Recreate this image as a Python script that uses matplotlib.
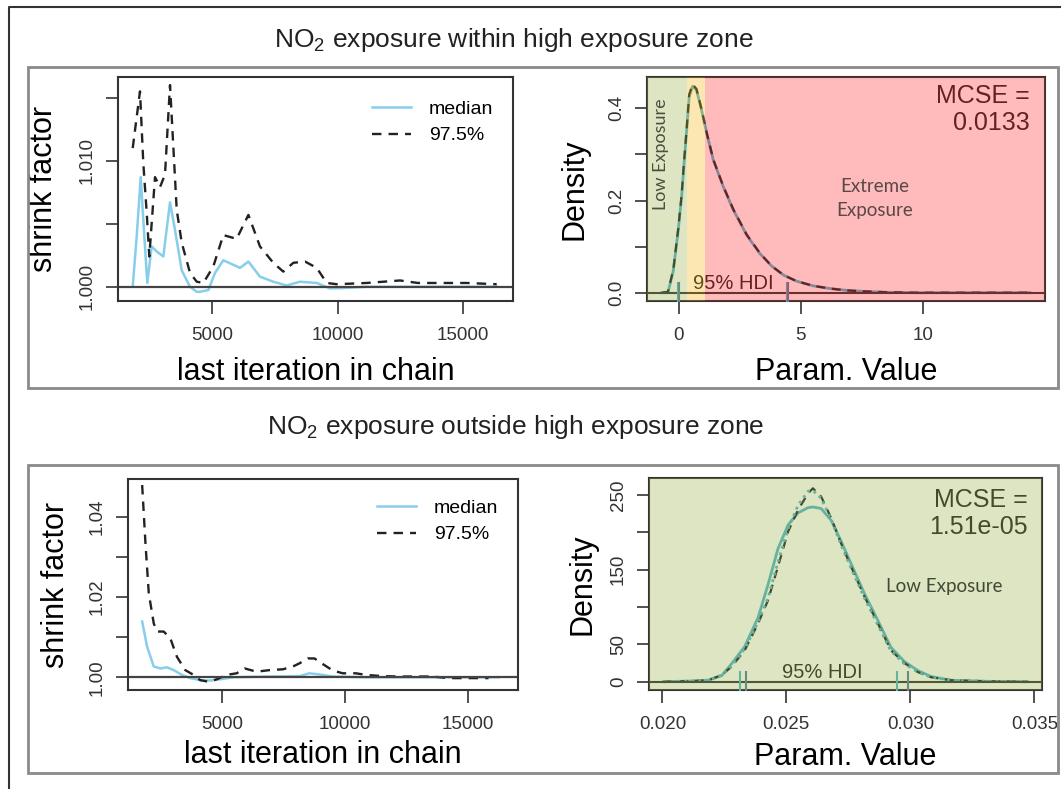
import numpy as np
from matplotlib import pyplot as plt
import matplotlib.patches as patches
from matplotlib.lines import Line2D

plt.rcParams["font.family"] = ["Liberation Sans", "DejaVu Sans"]

#############################################
######## Data ###############################
#############################################

# Gelman shrink factor, within high exposure zone
top_med_iter = [1841, 2000, 2159, 2263, 2422, 2597, 2797, 3060, 3327, 3526, 3793, 4124, 4391,
                4520, 4855, 5120, 5450, 6115, 6450, 6910, 7440, 7975, 8505, 9170, 9700,
                10230, 11160, 12500, 14000, 15500, 16340]
top_med = [1.0, 1.0040, 1.0087, 1.0053, 1.0003, 1.0032, 1.0028, 1.0024, 1.0067, 1.0045, 1.0013,
           1.0, 0.9996, 0.9996, 0.99974, 1.0011, 1.0021, 1.0015, 1.0020, 1.0008, 1.0004, 1.0001,
           1.0004, 1.0003, 0.99987, 0.9999, 1.0, 1.0, 1.0, 1.0, 1.0]
top_q97_iter = [1841, 2131, 2263, 2398, 2502, 2729, 2928, 3127, 3327, 3594, 3793, 4124, 4391,
                4655, 5050, 5450, 5980, 6450, 6910, 7440, 7840, 8240, 8705, 9170, 9570, 9970,
                11160, 12490, 13200, 14000, 15150, 16340]
top_q97 = [1.0110, 1.0155, 1.0098, 1.0059, 1.0024, 1.0087, 1.0079, 1.0089, 1.0160, 1.0061,
           1.0035, 1.0011, 1.0004, 1.0003, 1.0016, 1.0041, 1.0038, 1.0057, 1.0032, 1.0019,
           1.0012, 1.0019, 1.0020, 1.0015, 1.0003, 1.0002, 1.0003, 1.0005, 1.0003, 1.0003,
           1.0003, 1.0002]

# Gelman shrink factor, outside high exposure zone
bot_med_iter = [1774, 1976, 2245, 2514, 2782, 3051, 3387, 3723, 4126, 4530, 4933, 5470, 6815,
                8158, 8562, 8965, 9503, 10847, 13000, 16223]
bot_med = [1.0139, 1.0076, 1.0027, 1.0022, 1.0025, 1.0018, 1.0006, 0.9998, 0.9993, 0.9992,
           0.9995, 1.0, 1.0002, 1.0003, 1.0010, 1.0007, 1.0002, 1.0, 1.0, 1.0]
bot_q97_iter = [1774, 1908, 2043, 2245, 2379, 2648, 2917, 3185, 3521, 3858, 4126, 4462, 4798,
                5200, 5605, 5941, 6411, 6949, 7486, 7890, 8158, 8495, 8763, 9099, 9503, 9906,
                10444, 10847, 11519, 12190, 13535, 14200, 15820]
bot_q97 = [1.0479, 1.0334, 1.0209, 1.0134, 1.0114, 1.0114, 1.0097, 1.0051, 1.0018, 1.0006,
           0.9993, 0.9989, 0.9995, 1.0006, 1.0010, 1.0022, 1.0014, 1.0018, 1.0020, 1.0027,
           1.0035, 1.0047, 1.0047, 1.0033, 1.0017, 1.0010, 1.0010, 1.0006, 1.0003, 1.0002,
           1.0002, 0.9998, 0.9998]

# Posterior density per chain, within high exposure zone
top_dens_x = [-0.71, -0.45, -0.23, -0.03, 0.11, 0.21, 0.32, 0.42, 0.56, 0.72, 0.93, 1.14, 1.41,
              1.82, 2.23, 2.78, 3.32, 3.8, 4.3, 4.83, 5.5, 6.2, 6.9, 7.56, 8.5, 9.75, 12.0, 14.4]
top_dens_a = [0.0, 0.0, 0.048, 0.135, 0.208, 0.28, 0.353, 0.425, 0.448, 0.44, 0.396, 0.346,
              0.288, 0.23, 0.18, 0.125, 0.085, 0.058, 0.038, 0.025, 0.015, 0.009, 0.005,
              0.003, 0.001, 0.0, 0.0, 0.0]
top_dens_b = [0.0, 0.002, 0.05, 0.138, 0.212, 0.284, 0.357, 0.43, 0.452, 0.442, 0.398, 0.347,
              0.289, 0.231, 0.181, 0.126, 0.086, 0.058, 0.038, 0.025, 0.015, 0.009, 0.005,
              0.003, 0.001, 0.0, 0.0, 0.0]
top_hdi_lo = [-0.02, 0.0]
top_hdi_hi = [4.45, 4.47]
top_mcse = "MCSE =\n0.0133"

# Posterior density per chain, outside high exposure zone
bot_dens_x = [0.02005, 0.02125, 0.02185, 0.02239, 0.02279, 0.02332, 0.02386, 0.02426, 0.02466,
              0.02507, 0.02547, 0.02587, 0.02607, 0.0264, 0.02681, 0.02721, 0.02761, 0.02815,
              0.02869, 0.02922, 0.02976, 0.0303, 0.03083, 0.03164, 0.0331, 0.03472]
bot_dens_a = [0, 1, 2, 9, 20, 42, 78, 109, 154, 201, 230, 252, 259, 248, 219, 185, 154, 114,
              78, 42, 25, 13, 6, 2, 0.5, 0]
bot_dens_b = [0, 1, 2, 8, 24, 47, 86, 130, 178, 210, 226, 233, 234, 232, 216, 188, 158, 118,
              82, 46, 27, 15, 7, 2, 0.5, 0]
bot_dens_c = [0, 1, 2, 9, 21, 44, 80, 112, 160, 205, 236, 255, 256, 246, 217, 183, 152, 112,
              76, 41, 24, 13, 6, 2, 0.5, 0]
bot_hdi_lo = [0.02312, 0.02339]
bot_hdi_hi = [0.02946, 0.02989]
bot_mcse = "MCSE =\n1.51e-05"

titles = [r"NO$_\mathregular{2}$ exposure within high exposure zone",
          r"NO$_\mathregular{2}$ exposure outside high exposure zone"]

#############################################
######## Plotting routines ##################
#############################################

W, H = 1061, 789
SKY = "#87ceeb"
TEAL = "#56b6cc"
INK = "#222222"


def px_axes(fig, x0, y0, x1, y1):
    # pixel box (top-left origin) to figure axes
    return fig.add_axes([x0 / W, 1 - y1 / H, (x1 - x0) / W, (y1 - y0) / H])


def r_style(ax):
    for sp in ax.spines.values():
        sp.set_linewidth(1.5)
        sp.set_color("#333333")
    ax.tick_params(length=9, width=1.2, pad=7, labelsize=13.5, colors="#333333",
                   labelcolor="#333333")
    ax.tick_params(axis="x", pad=10)
    ax.tick_params(axis="y", labelrotation=90)
    for lab in ax.get_yticklabels():
        lab.set_verticalalignment("center")


def gelman_panel(ax, med_x, med_y, q_x, q_y, yticks, ylabels, ylim, xlim, xpad, ypad, leg_y):
    ax.plot(med_x, med_y, color=SKY, lw=1.8, label="median")
    ax.plot(q_x, q_y, color=INK, lw=1.7, ls=(0, (4, 3)), label="97.5%")
    ax.axhline(1.0, color="#444444", lw=1.6)
    ax.set_xlim(*xlim)
    ax.set_ylim(*ylim)
    ax.set_xticks([5000, 10000, 15000])
    ax.set_yticks(yticks)
    ax.set_yticklabels(ylabels)
    ax.set_xlabel("last iteration in chain", fontsize=22, labelpad=xpad)
    ax.set_ylabel("shrink factor", fontsize=22, labelpad=ypad)
    ax.legend(loc="upper right", bbox_to_anchor=(0.97, leg_y), frameon=False, fontsize=14,
              handlelength=2.0, handletextpad=0.95, labelspacing=0.45, borderaxespad=0.0)
    r_style(ax)


def density_panel(ax, xs, curves, hdi_lo, hdi_hi, mcse, xlim, ylim, xticks, yticks, ylabels,
                  xpad, ypad):
    styles = [dict(color=TEAL, lw=2.0, ls="-"),
              dict(color=INK, lw=1.6, ls=(0, (4, 3))),
              dict(color=TEAL, lw=2.0, ls=(0, (1, 1.5)))]
    for ys, st in zip(curves, styles):
        ax.plot(xs, ys, zorder=2, **st)
    ax.axhline(0, color="#333333", lw=1.5, zorder=2)
    hdi_cols = [TEAL, "#5a7f9a"]
    for lo, hi, c in zip(hdi_lo, hdi_hi, hdi_cols):
        ax.plot([lo, hi], [0, 0], ls="none", marker="|", ms=16, mew=1.5, color=c, zorder=3)
    ax.text(np.mean(hdi_lo + hdi_hi), 0, "95% HDI", ha="center", va="bottom",
            fontsize=14.5, color=INK, zorder=3)
    ax.text(max(xs), max(max(c) for c in curves), mcse, ha="right", va="top",
            fontsize=18, color=INK, linespacing=1.15, zorder=3)
    ax.set_xlim(*xlim)
    ax.set_ylim(*ylim)
    ax.set_xticks(xticks)
    ax.set_yticks(yticks)
    ax.set_yticklabels(ylabels)
    ax.set_xlabel("Param. Value", fontsize=22, labelpad=xpad)
    ax.set_ylabel("Density", fontsize=22, labelpad=ypad)
    r_style(ax)


def zone(ax, x0, x1, color, alpha=0.3):
    ax.axvspan(x0, x1, color=color, alpha=alpha, lw=0, zorder=4)


fig = plt.figure(figsize=(W / 100, H / 100), dpi=100, facecolor="white")

# outer frame and panel boxes
fig.add_artist(Line2D([9 / W, 9 / W, 1.0], [0.0, 1 - 7 / H, 1 - 7 / H],
                      transform=fig.transFigure, color="#333333", lw=1.5))
for y0, y1 in [(67, 388), (465, 773)]:
    fig.add_artist(patches.Rectangle((28 / W, 1 - y1 / H), (1058 - 28) / W, (y1 - y0) / H,
                                     transform=fig.transFigure, fill=False,
                                     ec="#8a8a8a", lw=2))
fig.text(514 / W, 1 - 40 / H, titles[0], ha="center", va="center", fontsize=19, color=INK)
fig.text(516 / W, 1 - 427 / H, titles[1], ha="center", va="center", fontsize=19, color=INK)

# top row
ax1 = px_axes(fig, 118, 77, 513, 301)
gelman_panel(ax1, top_med_iter, top_med, top_q97_iter, top_q97,
             [1.000, 1.005, 1.010, 1.015], ["1.000", "", "1.010", ""],
             (0.99887, 1.01664), (1255, 16990), xpad=9, ypad=14, leg_y=0.93)

ax2 = px_axes(fig, 647, 77, 1045, 301)
density_panel(ax2, top_dens_x, [top_dens_a, top_dens_b], top_hdi_lo, top_hdi_hi, top_mcse,
              (-1.31, 15.02), (-0.018, 0.468), [0, 5, 10],
              [0.0, 0.1, 0.2, 0.3, 0.4], ["0.0", "", "0.2", "", "0.4"], xpad=9, ypad=13)
zone(ax2, -1.31, 0.34, "#91ac3a")
zone(ax2, 0.34, 1.09, "#f8b205")
zone(ax2, 1.09, 15.02, "#ff2020")
ax2.text(-0.72, 0.30, "Low Exposure", rotation=90, ha="center", va="center",
         fontsize=13, family="Lato", color="#4a5040", zorder=5)
ax2.text(8.05, 0.205, "Extreme\nExposure", ha="center", va="center", fontsize=13.5,
         family="Lato", color="#5a4848", linespacing=1.5, zorder=5)

# bottom row
ax3 = px_axes(fig, 128, 479, 518, 690)
gelman_panel(ax3, bot_med_iter, bot_med, bot_q97_iter, bot_q97,
             [1.00, 1.01, 1.02, 1.03, 1.04], ["1.00", "", "1.02", "", "1.04"],
             (0.99684, 1.0494), (1200, 17015), xpad=5, ypad=13, leg_y=0.94)

ax4 = px_axes(fig, 649, 478, 1042, 690)
density_panel(ax4, bot_dens_x, [bot_dens_b, bot_dens_a, bot_dens_c], bot_hdi_lo, bot_hdi_hi,
              bot_mcse, (0.01946, 0.03531), (-11.1, 272.8), [0.020, 0.025, 0.030, 0.035],
              [0, 50, 100, 150, 200, 250], ["0", "50", "", "150", "", "250"], xpad=6, ypad=9)
ax4.set_xticklabels(["0.020", "0.025", "0.030", "0.035"])
zone(ax4, 0.01946, 0.03531, "#91ac3a")
ax4.text(0.03137, 128, "Low Exposure", ha="center", va="center", fontsize=13.5,
         family="Lato", color="#3f4a35", zorder=5)

fig.savefig("out.png", dpi=100)
